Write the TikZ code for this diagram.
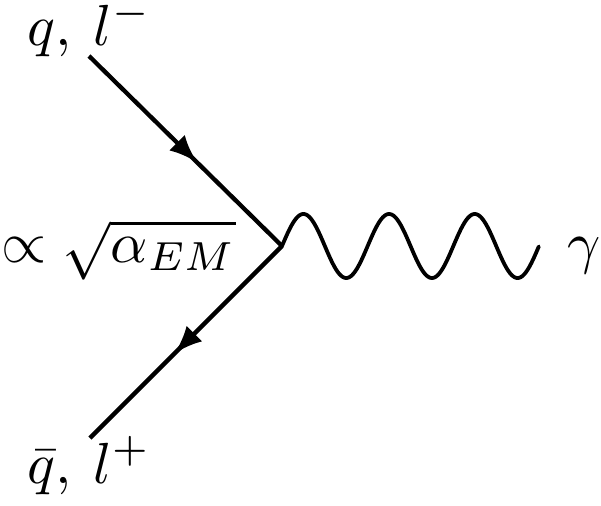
\documentclass[tikz,border=0pt]{standalone}
\usetikzlibrary{arrows.meta,decorations.markings}
\begin{document}
\begin{tikzpicture}[x=1pt,y=-1pt,
  fermion/.style={line width=4.3pt,
    postaction={decorate},
    decoration={markings,mark=at position 0.56 with {\arrow{Latex[length=28pt,width=22pt]}}}},
  photon/.style={line width=3.8pt},
  lbl/.style={inner sep=0pt,anchor=base west,scale=5.8}]
\useasboundingbox (0,0) rectangle (601,505);
\coordinate (v) at (282,246);
\coordinate (a) at (89,56);
\coordinate (b) at (90,438);
\coordinate (g) at (539,246);
\draw[fermion] (a) -- (v);
\draw[fermion] (v) -- (b);
\draw[photon,line cap=round] (v) -- plot[domain=0:3,samples=240] ({282+85.67*\x},{246-32*sin(360*\x)});
\node[lbl] (lq) at (26,46) {$q,\mkern4mu l^-$};
\node[lbl] (lc) at (0,262) {$\propto\sqrt{\alpha_{EM}}$};
\node[lbl] (lg) at (566,262) {$\gamma$};
\node[lbl] (lqb) at (26,483) {$\bar{q},\mkern4mu l^+$};
\end{tikzpicture}
\end{document}
